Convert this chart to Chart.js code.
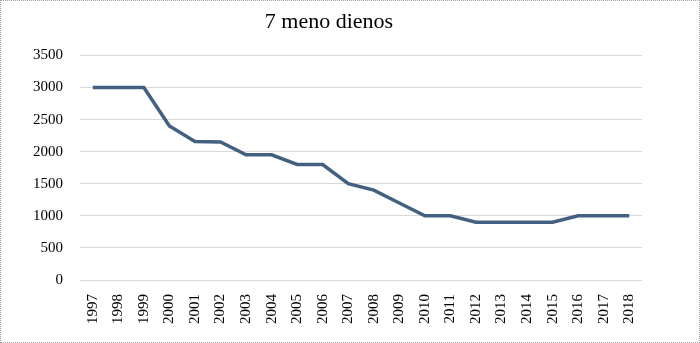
<!DOCTYPE html>
<html>
<head>
<meta charset="utf-8">
<script src="https://cdn.jsdelivr.net/npm/chart.js@4"></script>
<style>
    html, body { margin: 0; padding: 0; background: #fff; }
    #wrap {
        position: relative;
        width: 698px;
        height: 341px;
        border: 1px dotted #a0a0a0;
    }
</style>
</head>
<body>
<div id="wrap"><canvas id="chart" width="698" height="341"></canvas></div>
<script>
// Data
const years = ['1997', '1998', '1999', '2000', '2001', '2002', '2003', '2004', '2005', '2006', '2007',
    '2008', '2009', '2010', '2011', '2012', '2013', '2014', '2015', '2016', '2017', '2018'];
const values = [3000, 3000, 3000, 2400, 2160, 2150, 1950, 1950, 1800, 1800, 1500,
    1400, 1200, 1000, 1000, 900, 900, 900, 900, 1000, 1000, 1000];
const yMin = 0;
const yMax = 3500;
const yStep = 500;

const serif = '"Liberation Serif", "DejaVu Serif", serif';

const ctx = document.getElementById('chart').getContext('2d');
new Chart(ctx, {
    type: 'line',
    data: {
        labels: years,
        datasets: [{
            label: '7 meno dienos',
            data: values,
            borderColor: '#42607f',
            borderWidth: 3.5,
            pointRadius: 0,
            tension: 0,
            fill: false
        }]
    },
    options: {
        responsive: false,
        animation: false,
        layout: {
            padding: { top: 8, left: 15, right: 57, bottom: 12 }
        },
        plugins: {
            legend: { display: false },
            tooltip: { enabled: false },
            title: {
                display: true,
                text: '7 meno dienos',
                color: '#000',
                font: { family: serif, size: 22, weight: 'normal' },
                padding: { top: 0, bottom: 20 }
            }
        },
        scales: {
            x: {
                offset: true,
                grid: { display: false },
                border: { display: false },
                ticks: {
                    color: '#000',
                    font: { family: serif, size: 15 },
                    minRotation: 90,
                    maxRotation: 90,
                    padding: 6,
                    autoSkip: false
                }
            },
            y: {
                min: yMin,
                max: yMax,
                grid: { color: '#d9d9d9', lineWidth: 1, drawTicks: false },
                border: { display: false },
                ticks: {
                    stepSize: yStep,
                    color: '#000',
                    font: { family: serif, size: 15 },
                    padding: 17,
                    callback: (v) => String(v)
                }
            }
        }
    }
});
</script>
</body>
</html>
